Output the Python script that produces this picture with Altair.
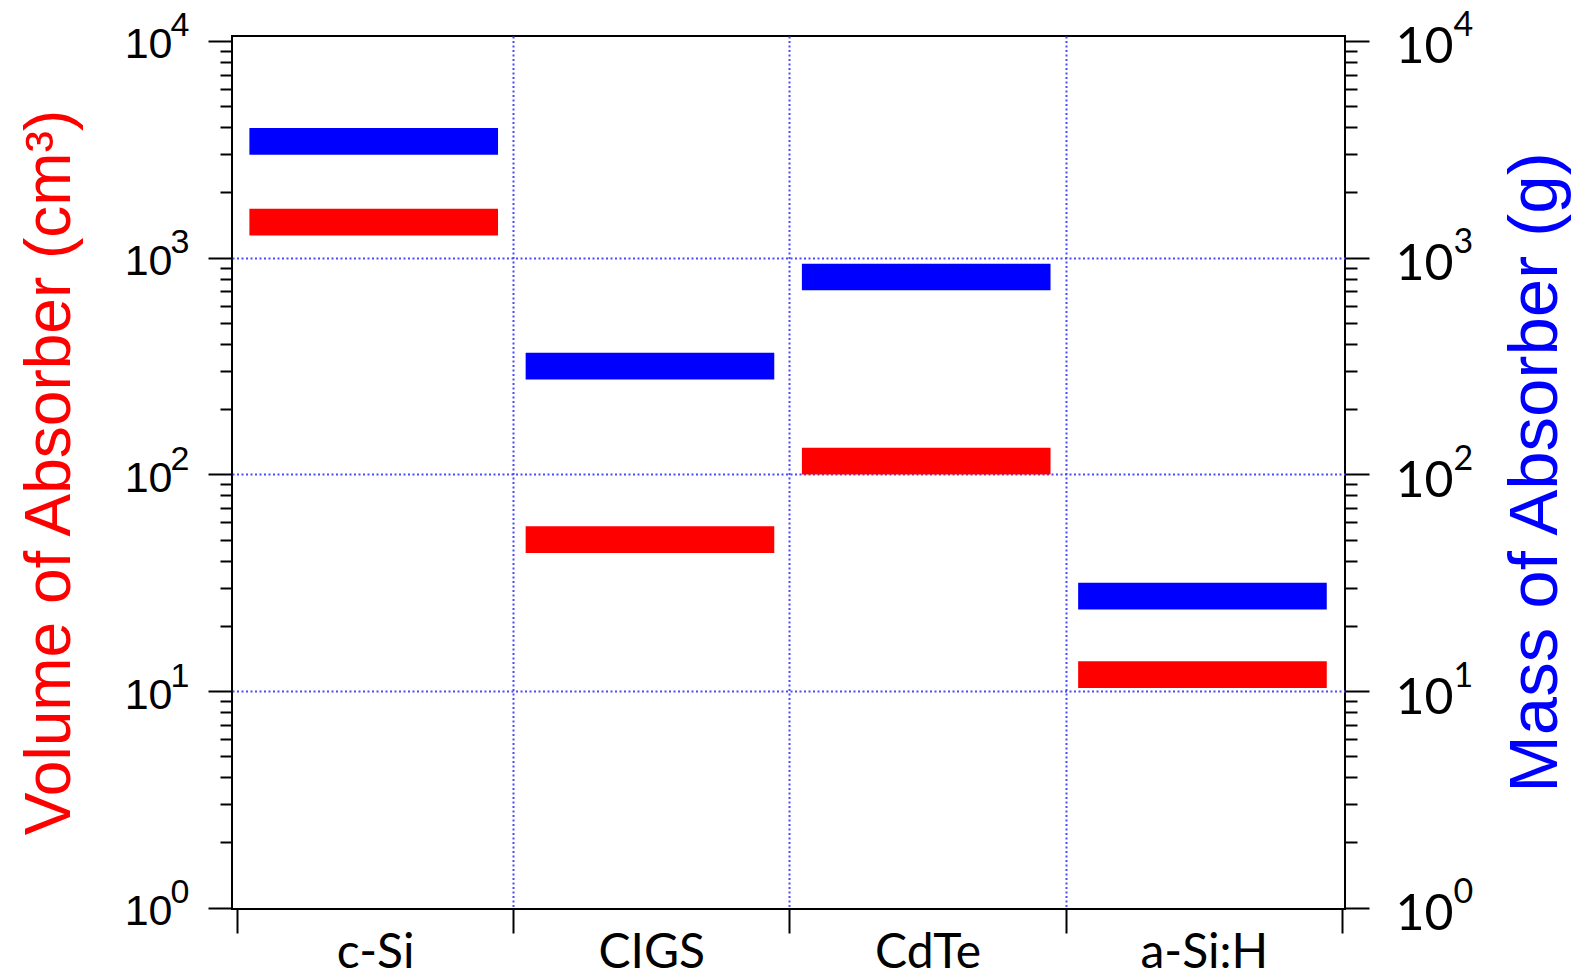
import altair as alt
import pandas as pd

materials = ["c-Si", "CIGS", "CdTe", "a-Si:H"]
volume_cm3 = [1460, 50, 115, 11.9]
mass_g = [3440, 316, 814, 27.4]
major_ticks = [1, 10, 100, 1000, 10000]
major_base = ["10", "10", "10", "10", "10"]
major_exp = ["0", "1", "2", "3", "4"]
minor_ticks = [m * d for d in [1, 10, 100, 1000] for m in range(2, 10)]

rows = []
for i, name in enumerate(materials):
    rows.append({"idx": i, "material": name, "series": "Volume", "value": volume_cm3[i]})
    rows.append({"idx": i, "material": name, "series": "Mass", "value": mass_g[i]})
df = pd.DataFrame(rows)

xscale = alt.Scale(domain=[-0.018, 4.011], nice=False, zero=False)
yscale = alt.Scale(type="log", domain=[0.986, 10544], nice=False)

is_major = "abs(log(datum.value)/LN10 - round(log(datum.value)/LN10)) < 0.001"
decade = "round(log(datum.value)/LN10)"


def arr(lst):
    return "[" + ",".join("'" + s + "'" for s in lst) + "]"


base_expr = f"({is_major}) ? {arr(major_base)}[{decade}] : ''"
exp_expr = f"({is_major}) ? {arr(major_exp)}[{decade}] : ''"
xlabel_expr = f"(datum.value % 1 != 0) ? {arr(materials)}[floor(datum.value)] : ''"

GRID_COLOR = "#4a4aff"
all_ticks = sorted(major_ticks + minor_ticks)

xaxis = alt.Axis(
    values=[0, 0.5, 1, 1.5, 2, 2.5, 3, 3.5, 4],
    domain=False,
    tickSize={"condition": {"test": "datum.value % 1 == 0", "value": 24}, "value": 0},
    tickWidth=2, tickColor="black",
    labelExpr=xlabel_expr, labelFont="Lato", labelFontSize=48, labelColor="black",
    labelPadding=20, labelFlush=False, labelOverlap=False, labelBound=False,
    grid=True, gridColor=GRID_COLOR, gridDash=[2, 2.5], gridWidth=2,
    gridOpacity={"condition": {"test": "datum.value % 1 == 0 && datum.value > 0 && datum.value < 4", "value": 1}, "value": 0},
    title=None,
)

left_axis = alt.Axis(
    orient="left", values=all_ticks, domain=False,
    tickSize={"condition": {"test": is_major, "value": 24}, "value": 12},
    tickWidth=2, tickColor="black",
    labelExpr=base_expr, labelFont="Liberation Sans", labelFontSize=43, labelColor="black",
    labelPadding=36, labelOffset=4, labelOverlap=False, labelBound=False, labelFlush=False,
    labelBaseline="middle",
    grid=True, gridColor=GRID_COLOR, gridDash=[2, 2.5], gridWidth=2,
    gridOpacity={"condition": {"test": f"({is_major}) && datum.value > 5 && datum.value < 5000", "value": 1}, "value": 0},
    title="Volume of Absorber (cm³)", titleColor="#ff0000", titleFont="Liberation Sans", titleFontSize=64,
    titleFontWeight="normal", titleAngle=270, titleX=-182, titleY=436, titleAlign="center", titleBaseline="middle",
)

left_exp_axis = alt.Axis(
    orient="left", values=major_ticks, domain=False, ticks=False, grid=False,
    labelExpr=exp_expr, labelFont="Liberation Sans", labelFontSize=34, labelColor="black",
    labelPadding=43, labelOffset=-15, labelOverlap=False, labelBound=False, labelFlush=False,
    labelBaseline="middle", labelAlign="right", title=None,
)

right_axis = alt.Axis(
    orient="right", values=all_ticks, domain=False,
    tickSize={"condition": {"test": is_major, "value": 24}, "value": 12},
    tickWidth=2, tickColor="black",
    labelExpr=base_expr, labelFont="Lato", labelFontSize=50, labelColor="black",
    labelPadding=26, labelOffset=7, labelOverlap=False, labelBound=False, labelFlush=False,
    labelBaseline="middle",
    grid=False,
    title="Mass of Absorber (g)", titleColor="#0000ff", titleFont="Liberation Sans", titleFontSize=69,
    titleFontWeight="normal", titleAngle=270, titleX=190, titleY=436, titleAlign="center", titleBaseline="middle",
)

right_exp_axis = alt.Axis(
    orient="right", values=major_ticks, domain=False, ticks=False, grid=False,
    labelExpr=exp_expr, labelFont="Lato", labelFontSize=34, labelColor="black",
    labelPadding=108, labelOffset=-15, labelOverlap=False, labelBound=False, labelFlush=False,
    labelBaseline="middle", labelAlign="left", title=None,
)

base = alt.Chart(df).transform_calculate(
    xa="datum.idx + 0.045", xb="datum.idx + 0.945"
)


def layer(series, color, axis, opacity=1.0):
    return base.transform_filter(f"datum.series == '{series}'").mark_rule(
        strokeWidth=26.7, strokeCap="butt", color=color, opacity=opacity
    ).encode(
        x=alt.X("xa:Q", scale=xscale, axis=xaxis),
        x2="xb:Q",
        y=alt.Y("value:Q", scale=yscale, axis=axis),
    )


red = layer("Volume", "#ff0000", left_axis)
blue = layer("Mass", "#0000ff", right_axis)
ghost_left = layer("Volume", "#ff0000", left_exp_axis, opacity=0)
ghost_right = layer("Mass", "#0000ff", right_exp_axis, opacity=0)

chart = alt.layer(ghost_left, ghost_right, red, blue).resolve_scale(y="shared").resolve_axis(y="independent").properties(
    width=1113, height=873,
    autosize=alt.AutoSizeParams(type="none"),
    padding={"left": 224, "top": 28, "right": 226, "bottom": 70},
    background="white",
).configure_view(stroke="black", strokeWidth=2)

chart.save("out.html", embed_options={"renderer": "svg", "actions": False})
